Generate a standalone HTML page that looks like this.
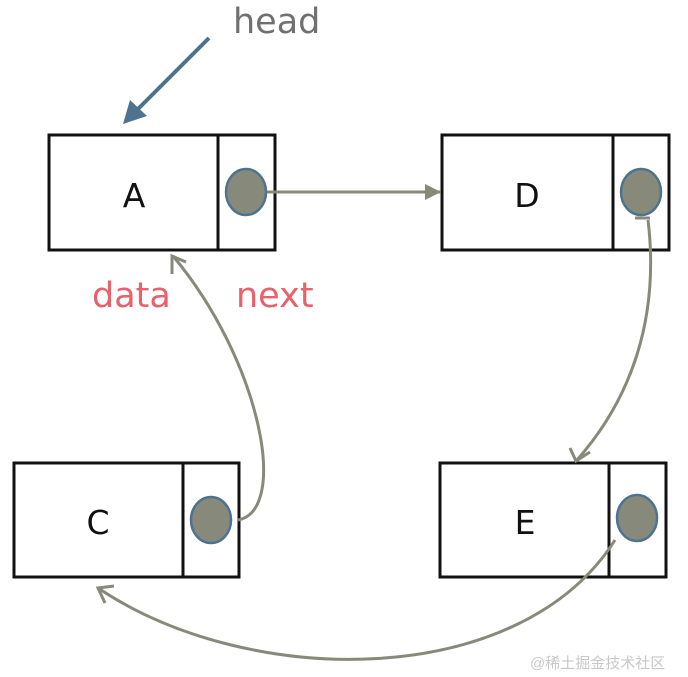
<!DOCTYPE html>
<html><head><meta charset="utf-8"><style>
html,body{margin:0;padding:0;background:#fff;}
svg{display:block;}
</style></head><body>
<svg width="688" height="677" viewBox="0 0 688 677" xmlns="http://www.w3.org/2000/svg">
<defs>
<marker id="tri" markerWidth="16" markerHeight="16" refX="15" refY="8" orient="auto" markerUnits="userSpaceOnUse"><path d="M0,0 L16,8 L0,16 Z" fill="#878a7a"/></marker>
</defs>
<g font-family="'DejaVu Sans','Liberation Sans',sans-serif">
<text x="233" y="33" font-size="35" fill="#707070">head</text>
<text x="92" y="307" font-size="35" fill="#e8616b">data</text>
<text x="236" y="307" font-size="35" fill="#e8616b">next</text>
</g>
<line x1="209" y1="38" x2="134" y2="113" stroke="#4e7390" stroke-width="4"/>
<polygon points="123,124 130,100 147,116" fill="#4e7390"/>
<g fill="#fff" stroke="#111" stroke-width="3">
<rect x="49" y="135" width="226" height="115"/>
<line x1="218" y1="135" x2="218" y2="250"/>
<rect x="442" y="135" width="227" height="115"/>
<line x1="613" y1="135" x2="613" y2="250"/>
<rect x="14" y="463" width="225" height="114"/>
<line x1="183" y1="463" x2="183" y2="577"/>
<rect x="440" y="463" width="226" height="114"/>
<line x1="609" y1="463" x2="609" y2="577"/>
</g>
<g font-family="'DejaVu Sans','Liberation Sans',sans-serif" font-size="33" fill="#111" text-anchor="middle">
<text x="134" y="207">A</text>
<text x="527" y="207">D</text>
<text x="98" y="534">C</text>
<text x="525" y="534">E</text>
</g>
<g fill="none" stroke="#878a7a" stroke-width="3">
<line x1="266" y1="192" x2="440" y2="192" marker-end="url(#tri)"/>
<path d="M648,220 C660,320 630,400 577,460"/>
<path d="M570,448 L576,461 L590,452"/>
<path d="M238,520 C290,510 260,360 173,256"/>
<path d="M172,274 L172,256 L186,262"/>
<path d="M615,540 C520,690 250,690 98,588"/>
<path d="M105,603 L98,588 L114,586"/>
<line x1="635" y1="218" x2="650" y2="218"/>
</g>
<g fill="#878a7a" stroke="#4e7390" stroke-width="2.5">
<ellipse cx="246" cy="192" rx="20" ry="23"/>
<ellipse cx="641" cy="192" rx="20" ry="23"/>
<ellipse cx="211" cy="520" rx="20" ry="23"/>
<ellipse cx="637" cy="518" rx="20" ry="23"/>
</g>
<text x="530" y="668" font-family="'Liberation Sans','Noto Sans CJK SC',sans-serif" font-size="15" fill="#c8c8c8">@稀土掘金技术社区</text>
</svg>
</body></html>
